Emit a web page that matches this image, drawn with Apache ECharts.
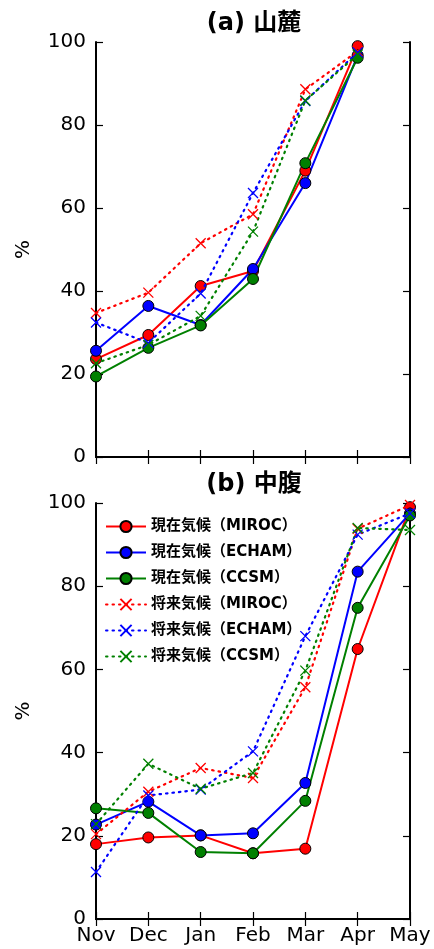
<!DOCTYPE html>
<html><head><meta charset="utf-8">
<script src="https://cdn.jsdelivr.net/npm/echarts@6/dist/echarts.min.js"></script>
<style>html,body{margin:0;padding:0;background:#fff}#c{width:434px;height:949px}</style>
</head><body><div id="c"></div>
<script>
const months = ['Nov','Dec','Jan','Feb','Mar','Apr','May'];
const yTicks = [0, 20, 40, 60, 80, 100];
const seriesNames = ['現在気候（MIROC）','現在気候（ECHAM）','現在気候（CCSM）','将来気候（MIROC）','将来気候（ECHAM）','将来気候（CCSM）'];
const titleA = '(a) 山麓';
const titleB = '(b) 中腹';
// (a) 山麓
const a_cur_miroc = [23.6, 29.4, 41.2, 44.8, 69.0, 99.0];
const a_cur_echam = [25.6, 36.4, 31.8, 45.3, 66.0, 96.8];
const a_cur_ccsm  = [19.4, 26.3, 31.7, 42.9, 70.8, 96.2];
const a_fut_miroc = [34.7, 39.6, 51.5, 58.5, 88.6, 97.8];
const a_fut_echam = [32.4, 27.5, 39.4, 63.6, 85.8, 97.5];
const a_fut_ccsm  = [22.6, 27.0, 34.0, 54.3, 85.9, 97.0];
// (b) 中腹
const b_cur_miroc = [18.0, 19.6, 20.1, 15.8, 16.9, 64.9, 99.0];
const b_cur_echam = [22.7, 28.2, 20.1, 20.6, 32.7, 83.5, 97.5];
const b_cur_ccsm  = [26.6, 25.5, 16.1, 15.8, 28.4, 74.8, 97.0];
const b_fut_miroc = [20.4, 30.6, 36.3, 33.9, 55.7, 93.8, 99.5];
const b_fut_echam = [11.3, 29.7, 31.1, 40.3, 68.0, 92.4, 97.5];
const b_fut_ccsm  = [22.8, 37.3, 31.3, 35.1, 59.7, 94.0, 93.5];

const colors = ['#ff0000', '#0000ff', '#008000'];
const XSYM = 'path://M0,0L10,10M10,0L0,10';
const font = '"DejaVu Sans", "Noto Sans CJK JP", sans-serif';

function curSeries(name, data, color, gi) {
  return {
    name, type: 'line', data, xAxisIndex: gi * 2, yAxisIndex: gi * 2,
    symbol: 'circle', symbolSize: 11,
    lineStyle: { color, width: 2 },
    itemStyle: { color, borderColor: '#000', borderWidth: 1 },
    emphasis: { disabled: true }, animation: false, z: 3
  };
}
function futSeries(name, data, color, gi) {
  return {
    name, type: 'line', data, xAxisIndex: gi * 2, yAxisIndex: gi * 2,
    symbol: XSYM, symbolSize: 10, symbolKeepAspect: true,
    lineStyle: { color, width: 2.2, type: [1.5, 5], cap: 'round' },
    itemStyle: { color, borderColor: color, borderWidth: 1.3 },
    emphasis: { disabled: true }, animation: false, z: 4
  };
}

const grids = [
  { left: 96, right: 24, top: 42, height: 415 },
  { left: 96, right: 24, top: 503, height: 416 }
];
const xAxes = [], yAxes = [];
[0, 1].forEach(gi => {
  xAxes.push({
    type: 'category', data: months, gridIndex: gi, boundaryGap: false, position: 'bottom',
    axisLine: { lineStyle: { color: '#000', width: 2 } },
    axisTick: { inside: true, length: 7, lineStyle: { color: '#000', width: 1.2 } },
    axisLabel: { show: gi === 1, color: '#000', fontSize: 20, fontFamily: font, margin: 7, interval: 0 },
    splitLine: { show: false }
  });
  xAxes.push({
    type: 'category', data: months, gridIndex: gi, boundaryGap: false, position: 'top',
    axisLine: { lineStyle: { color: '#000', width: 2 } },
    axisTick: { inside: true, length: 7, lineStyle: { color: '#000', width: 1.2 } },
    axisLabel: { show: false }, splitLine: { show: false }
  });
  yAxes.push({
    type: 'value', gridIndex: gi, min: 0, max: 100, interval: 20, position: 'left',
    name: '%', nameLocation: 'middle', nameGap: 62, nameRotate: 90,
    nameTextStyle: { fontSize: 20, color: '#000', fontFamily: font },
    axisLine: { show: true, lineStyle: { color: '#000', width: 2 } },
    axisTick: { show: true, inside: true, length: 7, lineStyle: { color: '#000', width: 1.2 } },
    axisLabel: { color: '#000', fontSize: 20, fontFamily: font, margin: 10,
      formatter: v => yTicks.includes(v) ? String(v) : '' },
    splitLine: { show: false }
  });
  yAxes.push({
    type: 'value', gridIndex: gi, min: 0, max: 100, interval: 20, position: 'right',
    axisLine: { show: true, lineStyle: { color: '#000', width: 2 } },
    axisTick: { show: true, inside: true, length: 7, lineStyle: { color: '#000', width: 1.2 } },
    axisLabel: { show: false }, splitLine: { show: false }
  });
});

const series = [
  curSeries(seriesNames[0], a_cur_miroc, colors[0], 0),
  curSeries(seriesNames[1], a_cur_echam, colors[1], 0),
  curSeries(seriesNames[2], a_cur_ccsm, colors[2], 0),
  futSeries(seriesNames[3], a_fut_miroc, colors[0], 0),
  futSeries(seriesNames[4], a_fut_echam, colors[1], 0),
  futSeries(seriesNames[5], a_fut_ccsm, colors[2], 0),
  curSeries(seriesNames[0], b_cur_miroc, colors[0], 1),
  curSeries(seriesNames[1], b_cur_echam, colors[1], 1),
  curSeries(seriesNames[2], b_cur_ccsm, colors[2], 1),
  futSeries(seriesNames[3], b_fut_miroc, colors[0], 1),
  futSeries(seriesNames[4], b_fut_echam, colors[1], 1),
  futSeries(seriesNames[5], b_fut_ccsm, colors[2], 1)
];

const chart = echarts.init(document.getElementById('c'), null, { renderer: 'canvas' });
chart.setOption({
  backgroundColor: '#fff',
  animation: false,
  title: [
    { text: titleA, left: 249, top: 7, textAlign: 'center',
      textStyle: { fontSize: 24, fontWeight: 'bold', color: '#000', fontFamily: font } },
    { text: titleB, left: 249, top: 468, textAlign: 'center',
      textStyle: { fontSize: 24, fontWeight: 'bold', color: '#000', fontFamily: font } }
  ],
  legend: {
    data: seriesNames, orient: 'vertical', left: 100, top: 514,
    itemWidth: 40, itemHeight: 14, itemGap: 11, selectedMode: false,
    textStyle: { fontSize: 15, fontWeight: 'bold', color: '#000', fontFamily: font }
  },
  grid: grids,
  xAxis: xAxes,
  yAxis: yAxes,
  series
});
</script>
</body></html>
